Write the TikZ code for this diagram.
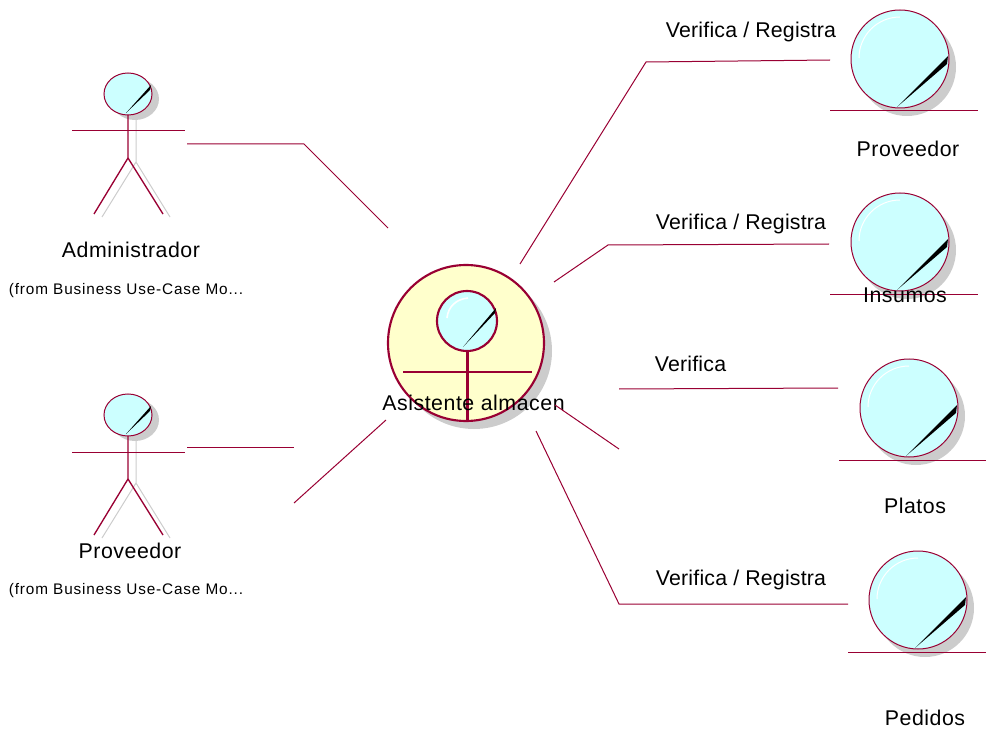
\documentclass[tikz,border=0pt]{standalone}
\usepackage{fontspec}
\setmainfont{Liberation Sans}
\newfontfamily\namefont[LetterSpace=2.5]{Liberation Sans}
\newfontfamily\linkfont[LetterSpace=0.9]{Liberation Sans}
\newfontfamily\originfont[LetterSpace=5.5]{Liberation Sans}
\definecolor{roseline}{RGB}{153,0,51}
\definecolor{ballfill}{RGB}{204,255,255}
\definecolor{workerfill}{RGB}{255,255,204}
\definecolor{shadowgray}{RGB}{204,204,204}
\tikzset{every picture/.style={line width=0.75pt}}
\tikzset{
  link/.style={draw=roseline,line width=0.75pt},
  namelabel/.style={inner sep=0pt,font=\namefont\fontsize{16}{18}\selectfont},
  linklabel/.style={inner sep=0pt,font=\linkfont\fontsize{16}{18}\selectfont},
  originlabel/.style={inner sep=0pt,font=\originfont\fontsize{11.5}{14}\selectfont},
}
\newcommand{\entityball}[1]{
  \begin{scope}[shift={#1}]
    %Shadow
    \fill [shadowgray] (7,8) circle (49);
    %Ball
    \draw [draw=roseline,fill=ballfill] (0,0) circle (49);
    \draw [white] (-41,-1) arc (180:270:41);
    \fill [black] (-3,48) -- (48,-3) -- (47,5) -- cycle;
    %Base
    \draw [draw=roseline] (-70,52) -- (78,52);
  \end{scope}
}
\newcommand{\actorfig}[1]{
  \begin{scope}[shift={#1}]
    %Shadow
    \fill [shadowgray] (7,5) ellipse (24 and 21);
    \draw [shadowgray] (8,21) -- (8,68) -- (-26,123) (8,68) -- (42,123);
    %Head
    \draw [draw=roseline,fill=ballfill] (0,0) ellipse (24 and 21);
    \fill [black] (-2,19) -- (23,-9) -- (22,-4) -- cycle;
    %Body
    \draw [draw=roseline,line width=1pt] (0,21) -- (0,64) -- (-34,120) (0,64) -- (35,120);
    \draw [draw=roseline] (-56,37) -- (57,37);
  \end{scope}
}

\begin{document}
\begin{tikzpicture}[x=0.75pt,y=0.75pt,yscale=-1]
\useasboundingbox (0,0) rectangle (986,731);

%Actors
\actorfig{(128,94)}
\actorfig{(128,415)}
%Entities
\entityball{(900,59)}
\entityball{(900,242)}
\entityball{(909,408)}
\entityball{(918,600)}

%Shape: Worker
\fill [shadowgray] (474,351) circle (78);
\draw [draw=roseline,line width=1.6pt,fill=workerfill] (466,343) circle (78);
\draw [draw=roseline,line width=1.6pt,fill=ballfill] (467,321) circle (30);
\draw [white,line width=1.2pt] (447,318) .. controls (448,307) and (456,299) .. (468,298);
\fill [black] (463,347) -- (496,308) -- (495,313) -- cycle;
\draw [draw=roseline,line width=1.6pt] (467.5,351) -- (467.5,420);
\draw [draw=roseline,line width=1.6pt] (403,372) -- (532,372);

% Text Node
\node (administrador) [namelabel] at (131,250) {Administrador};
\node (fromadmin) [originlabel] at (126,291) {(from Business Use-Case Mo...};
\node (proveedoractor) [namelabel] at (130,551) {Proveedor};
\node (fromproveedor) [originlabel] at (126,591) {(from Business Use-Case Mo...};
\node (asistente) [namelabel] at (473.5,403) {Asistente almacen};
\node (proveedor) [namelabel] at (908,149) {Proveedor};
\node (insumos) [namelabel] at (905,295) {Insumos};
\node (platos) [namelabel] at (915,506) {Platos};
\node (pedidos) [namelabel] at (925,718) {Pedidos};
\node (labelone) [linklabel] at (751,32) {Verifica / Registra};
\node (labeltwo) [linklabel] at (741,224) {Verifica / Registra};
\node (labelthree) [linklabel] at (690.5,364) {Verifica};
\node (labelfour) [linklabel] at (741,580) {Verifica / Registra};

%Connectors
\coordinate (adminend) at (187,144);
\coordinate (adminbend) at (304,144);
\coordinate (adminworker) at (388,228);
\coordinate (provend) at (187,447);
\coordinate (provstop) at (294,447);
\coordinate (provrestart) at (294,503);
\coordinate (provworker) at (386,420);
\coordinate (oneworker) at (520,264);
\coordinate (onebend) at (646,62);
\coordinate (oneend) at (830,60);
\coordinate (twoworker) at (554,282);
\coordinate (twobend) at (608,245);
\coordinate (twoend) at (829,244);
\coordinate (threestart) at (619,389);
\coordinate (threeend) at (838,388);
\coordinate (threeworker) at (555,405);
\coordinate (threestop) at (619,449);
\coordinate (fourworker) at (536,431);
\coordinate (fourbend) at (619,604);
\coordinate (fourend) at (848,604);
\draw [link] (adminend) -- (adminbend) -- (adminworker);
\draw [link] (provend) -- (provstop);
\draw [link] (provrestart) -- (provworker);
\draw [link] (oneworker) -- (onebend) -- (oneend);
\draw [link] (twoworker) -- (twobend) -- (twoend);
\draw [link] (threestart) -- (threeend);
\draw [link] (threeworker) -- (threestop);
\draw [link] (fourworker) -- (fourbend) -- (fourend);

\end{tikzpicture}
\end{document}
